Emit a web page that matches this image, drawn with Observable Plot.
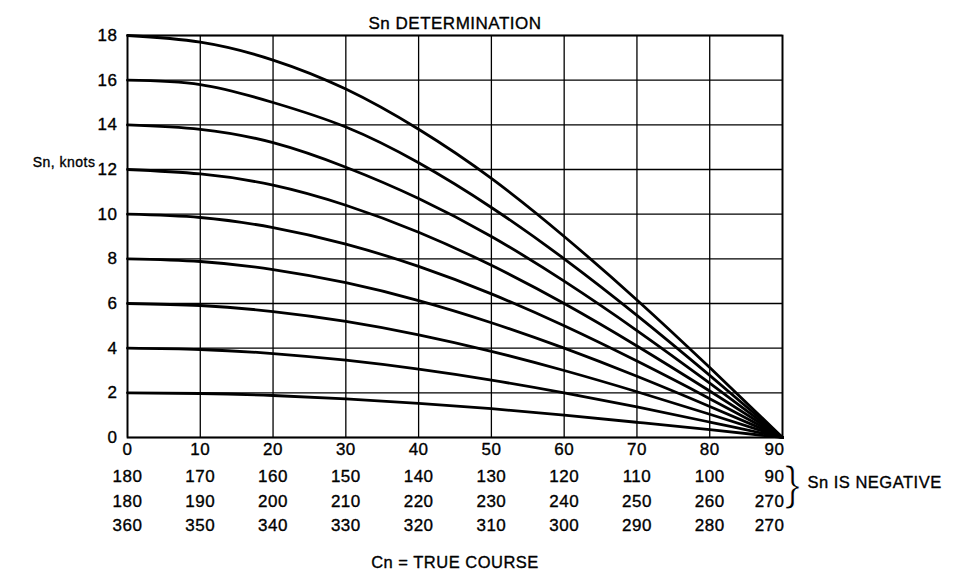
<!DOCTYPE html>
<html><head><meta charset="utf-8">
<script src="https://cdn.jsdelivr.net/npm/d3@7"></script>
<script src="https://cdn.jsdelivr.net/npm/@observablehq/plot@0.6"></script>
<style>body{margin:0;background:#fff} svg{display:block}</style>
</head><body><div id="chart"></div>
<script>
// True course Cn (degrees) along the x axis
const courses = [0, 10, 20, 30, 40, 50, 60, 70, 80, 90];
// Sn (knots) at every 10 degrees
const sn2  = [2, 1.97, 1.88, 1.73, 1.53, 1.29, 1.0, 0.68, 0.35, 0];
const sn4  = [4, 3.94, 3.76, 3.46, 3.06, 2.57, 2.0, 1.37, 0.69, 0];
const sn6  = [6, 5.91, 5.64, 5.2, 4.6, 3.86, 3.0, 2.05, 1.04, 0];
const sn8  = [8, 7.88, 7.52, 6.93, 6.13, 5.14, 4.0, 2.74, 1.39, 0];
const sn10 = [10, 9.85, 9.4, 8.66, 7.66, 6.43, 5.0, 3.42, 1.74, 0];
const sn12 = [12, 11.8, 11.3, 10.4, 9.19, 7.71, 6.0, 4.1, 2.08, 0];
const sn14 = [14, 13.8, 13.2, 12.1, 10.7, 9.0, 7.0, 4.79, 2.43, 0];
const sn16 = [16, 15.8, 15.0, 13.9, 12.3, 10.3, 8.0, 5.47, 2.78, 0];
const sn18 = [18, 17.7, 16.9, 15.6, 13.8, 11.6, 9.0, 6.16, 3.13, 0];
const speeds = [2, 4, 6, 8, 10, 12, 14, 16, 18];
const series = [sn2, sn4, sn6, sn8, sn10, sn12, sn14, sn16, sn18];
// Extra tick-label rows under the x axis
const row2 = ["180", "170", "160", "150", "140", "130", "120", "110", "100", "90"];
const row3 = ["180", "190", "200", "210", "220", "230", "240", "250", "260", "270"];
const row4 = ["360", "350", "340", "330", "320", "310", "300", "290", "280", "270"];
const yTicks = [0, 2, 4, 6, 8, 10, 12, 14, 16, 18];

const data = [];
series.forEach((vals, k) => vals.forEach((v, i) => data.push({speed: speeds[k], course: courses[i], sn: v})));
const rows = courses.map((c, i) => ({course: c, r1: String(c), r2: row2[i], r3: row3[i], r4: row4[i]}));
const inner = rows.filter(d => d.course < 90);
const last = rows.filter(d => d.course === 90);

const font = "'Liberation Sans', Arial, sans-serif";
const tickFs = 17;
const ink = {fill: "#000", stroke: "#000", strokeWidth: 0.35};
function rowMarks(key, dy) {
  return [
    Plot.text(inner, {x: "course", text: key, frameAnchor: "bottom", dy, fontSize: tickFs, ...ink}),
    Plot.text(last, {x: "course", text: key, frameAnchor: "bottom", dy, dx: 2, textAnchor: "end", fontSize: tickFs, ...ink})
  ];
}

const chart = Plot.plot({
  width: 958, height: 576,
  marginTop: 35, marginBottom: 139, marginLeft: 127, marginRight: 176,
  style: {fontFamily: font, fontSize: "16px", color: "#000", background: "#fff", letterSpacing: "0.5px"},
  x: {domain: [0, 90], axis: null},
  y: {domain: [0, 18], axis: null},
  marks: [
    Plot.gridX(courses, {stroke: "#000", strokeOpacity: 1, strokeWidth: 1.3}),
    Plot.gridY(yTicks, {stroke: "#000", strokeOpacity: 1, strokeWidth: 1.3}),
    Plot.frame({stroke: "#000", strokeWidth: 1.8}),
    Plot.line(data, {x: "course", y: "sn", z: "speed", curve: "natural", stroke: "#000", strokeWidth: 2.8}),
    Plot.text(yTicks, {y: d => d, text: d => String(d), frameAnchor: "left", dx: -10, textAnchor: "end", fontSize: tickFs, ...ink}),
    ...rowMarks("r1", 17),
    ...rowMarks("r2", 44),
    ...rowMarks("r3", 69),
    ...rowMarks("r4", 93),
    Plot.text(["}"], {frameAnchor: "bottom-right", dx: 18, dy: 61, fontSize: 46, fill: "#000", stroke: "#fff", strokeWidth: 1.2, paintOrder: "normal", fontFamily: "'Liberation Sans', sans-serif"}),
    Plot.text(["Sn IS NEGATIVE"], {frameAnchor: "bottom-right", dx: 25, dy: 50, textAnchor: "start", fontSize: 16.5, letterSpacing: "1px", ...ink}),
    Plot.text(["Cn = TRUE COURSE"], {frameAnchor: "bottom", dy: 130, fontSize: 16.5, ...ink}),
    Plot.text(["Sn DETERMINATION"], {frameAnchor: "top", dy: -19, fontSize: 17, ...ink}),
    Plot.text(["Sn, knots"], {frameAnchor: "top-left", dx: -32, dy: 122, textAnchor: "end", fontSize: 14, letterSpacing: "0.3px", ...ink})
  ]
});
document.getElementById("chart").append(chart);
</script>
</body></html>
